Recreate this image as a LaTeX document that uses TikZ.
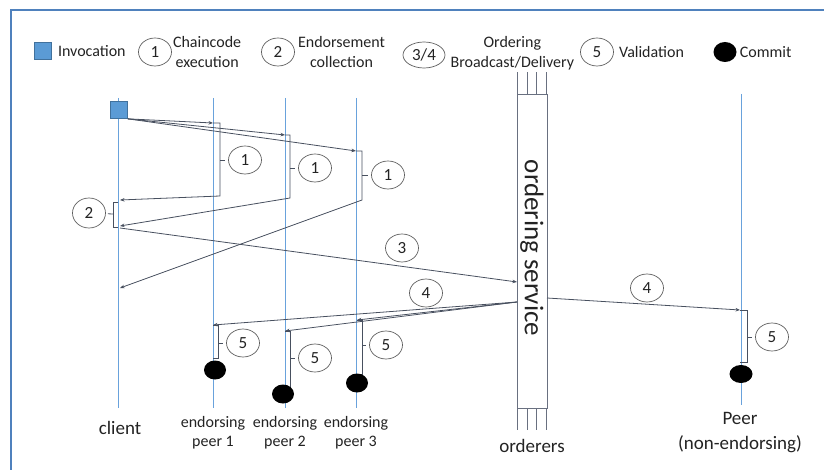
\documentclass[tikz,border=0pt]{standalone}
\usepackage{fontspec}
\setmainfont{Carlito}
\usepackage{xcolor}
\usetikzlibrary{shapes.geometric, arrows.meta, positioning, calc}
\definecolor{framecol}{RGB}{79,129,189}
\definecolor{lifecol}{RGB}{105,162,220}
\definecolor{msgcol}{RGB}{72,80,95}
\definecolor{ellcol}{RGB}{95,95,95}
\definecolor{invfill}{RGB}{91,155,213}
\definecolor{invedge}{RGB}{65,113,156}
\definecolor{boxcol}{RGB}{105,112,128}
\definecolor{txtcol}{RGB}{35,35,35}
\tikzset{
    frame/.style={
        draw=framecol,
        line width=1.6pt
    },
    lifeline/.style={
        draw=lifecol,
        line width=0.9pt
    },
    msg/.style={
        draw=msgcol,
        line width=0.8pt,
        -{Stealth[length=4.5pt,width=3.5pt]}
    },
    brk/.style={
        draw=msgcol,
        line width=0.8pt
    },
    stepmark/.style={
        ellipse,
        draw=ellcol,
        line width=0.7pt,
        minimum width=33pt,
        minimum height=28pt,
        inner sep=0pt,
        text=txtcol,
        font=\fontsize{17}{17}\selectfont
    },
    invbox/.style={
        rectangle,
        draw=invedge,
        fill=invfill,
        line width=0.7pt,
        minimum size=17pt,
        inner sep=0pt
    },
    commitdot/.style={
        ellipse,
        fill=black,
        minimum width=22pt,
        minimum height=19pt,
        inner sep=0pt
    },
    legtext/.style={
        text=txtcol,
        align=center,
        inner sep=0pt,
        font=\fontsize{16}{20}\selectfont
    },
    actor/.style={
        text=txtcol,
        align=center,
        inner sep=0pt,
        font=\fontsize{19}{25}\selectfont
    },
    peerlabel/.style={
        text=txtcol,
        align=center,
        inner sep=0pt,
        font=\fontsize{16}{19}\selectfont
    },
    ordbox/.style={
        rectangle,
        draw=boxcol,
        line width=1pt,
        minimum width=30pt,
        minimum height=313pt,
        inner sep=0pt
    },
    stub/.style={
        draw=boxcol,
        line width=1pt
    }
}
\begin{document}
\begin{tikzpicture}[x=1pt, y=-1pt]
\useasboundingbox (0,0) rectangle (824,470);

% Frame
\draw[frame] (11,470) -- (11,10) -- (824,10);

% Legend
\node[invbox] (leginv) at (43,51) {};
\node[legtext, right=6pt of leginv] (leginvtxt) {Invocation};
\node[stepmark] (legone) at (155,52) {1};
\node[legtext, right=1pt of legone] (legonetxt) {Chaincode\\execution};
\node[stepmark] (legtwo) at (278,52) {2};
\node[legtext, right=3pt of legtwo] (legtwotxt) {Endorsement\\collection};
\node[stepmark, minimum width=42pt, minimum height=26pt] (legord) at (424,55) {3/4};
\node[legtext, right=5pt of legord, yshift=2pt] (legordtxt) {Ordering\\Broadcast/Delivery};
\node[stepmark] (legfive) at (597,52) {5};
\node[legtext, right=5pt of legfive] (legfivetxt) {Validation};
\node[commitdot, minimum width=23pt, minimum height=20pt] (legdot) at (725,52) {};
\node[legtext, right=3pt of legdot] (legdottxt) {Commit};

% Lifelines
\coordinate (client-t) at (118,98);
\coordinate (client-b) at (118,408);
\coordinate (peerA-t) at (213,98);
\coordinate (peerA-b) at (213,408);
\coordinate (peerB-t) at (285,98);
\coordinate (peerB-b) at (285,408);
\coordinate (peerC-t) at (356,98);
\coordinate (peerC-b) at (356,408);
\coordinate (peerN-t) at (741,94);
\coordinate (peerN-b) at (741,405);
\draw[lifeline] (client-t) -- (client-b);
\draw[lifeline] (peerA-t) -- (peerA-b);
\draw[lifeline] (peerB-t) -- (peerB-b);
\draw[lifeline] (peerC-t) -- (peerC-b);
\draw[lifeline] (peerN-t) -- (peerN-b);

% Ordering service
\node[ordbox] (ordsvc) at (532,251.5) {};
\node[rotate=-90, text=txtcol, font=\fontsize{27}{27}\selectfont] (ordlabel) at (532,248) {ordering service};
\foreach \s in {0.03,0.34,0.66,0.97} {
    \draw[stub] ($(ordsvc.north west)!\s!(ordsvc.north east)$) -- ++(0,-22);
    \draw[stub] ($(ordsvc.south west)!\s!(ordsvc.south east)$) -- ++(0,21);
}

% Labels
\node[actor] (clientlbl) at (120,428) {client};
\node[peerlabel] (peerAlbl) at (213,433) {endorsing\\peer 1};
\node[peerlabel] (peerBlbl) at (285,433) {endorsing\\peer 2};
\node[peerlabel] (peerClbl) at (356,433) {endorsing\\peer 3};
\node[actor] (ordlbl) at (532,446) {orderers};
\node[actor] (peerNlbl) at (740,433) {Peer\\(non-endorsing)};

% Invocation
\node[invbox] (inv) at (119,110) {};

% Step 1: chaincode execution
\coordinate (pA-in) at (213,123);
\coordinate (pB-in) at (285,135);
\coordinate (pC-in) at (356,151);
\coordinate (pA-out) at (220,196);
\coordinate (pB-out) at (290,198);
\coordinate (pC-out) at (362,200);
\coordinate (cl-a) at (120,200);
\coordinate (cl-b) at (120,226);
\coordinate (cl-c) at (120,288);
\draw[msg] (inv.south east) -- (pA-in);
\draw[msg] (inv.south east) -- (pB-in);
\draw[msg] (inv.south east) -- (pC-in);
\draw[msg] (pA-in) -| (pA-out) -- (cl-a);
\draw[msg] (pB-in) -| (pB-out) -- (cl-b);
\draw[msg] (pC-in) -| (pC-out) -- (cl-c);
\node[stepmark] (oneA) at (245,160) {1};
\node[stepmark] (oneB) at (315,168) {1};
\node[stepmark] (oneC) at (388,175) {1};
\draw[brk, shorten >=3pt] (pA-out |- oneA) -- (oneA);
\draw[brk, shorten >=3pt] (pB-out |- oneB) -- (oneB);
\draw[brk, shorten >=3pt] (pC-out |- oneC) -- (oneC);

% Step 2: endorsement collection
\coordinate (cl-top) at (118,202);
\coordinate (cl-bot) at (118,227);
\coordinate (brtwo) at (113,214);
\draw[brk] (cl-top) -- ++(-5,0) |- (cl-bot);
\node[stepmark, minimum height=30pt] (two) at (89,213) {2};
\draw[brk, shorten >=2pt] (brtwo) -- (two);

% Step 3: broadcast
\coordinate (cl-send) at (120,228);
\coordinate (os-in) at (517,282);
\draw[msg] (cl-send) -- (os-in);
\node[stepmark] (three) at (402,248) {3};

% Step 4: delivery
\coordinate (os-out) at (517,302);
\coordinate (os-outr) at (547,298);
\coordinate (pA-dl) at (213,325);
\coordinate (pB-dl) at (285,331);
\coordinate (pC-dl) at (357,320);
\coordinate (pN-dl) at (740,310);
\draw[msg] (os-out) -- (pA-dl);
\draw[msg] (os-out) -- (pB-dl);
\draw[msg] (os-out) -- (pC-dl);
\draw[msg] (os-outr) -- (pN-dl);
\node[stepmark] (fourA) at (426,293) {4};
\node[stepmark] (fourB) at (647,288) {4};

% Step 5: validation
\coordinate (pA-v) at (218,358);
\coordinate (pB-v) at (290,387);
\coordinate (pC-v) at (362,374);
\coordinate (pN-v) at (747,362);
\draw[brk] (pA-dl) -| (pA-v) -- (pA-v -| pA-dl);
\draw[brk] (pB-dl) -| (pB-v) -- (pB-v -| pB-dl);
\draw[brk] (pC-dl) -| (pC-v) -- (pC-v -| pC-dl);
\draw[brk] (pN-dl) -| (pN-v) -- (pN-v -| pN-dl);
\node[stepmark] (fiveA) at (243,343) {5};
\node[stepmark] (fiveB) at (315,358) {5};
\node[stepmark] (fiveC) at (386,345) {5};
\node[stepmark] (fiveN) at (772,337) {5};
\draw[brk, shorten >=3pt] (pA-v |- fiveA) -- (fiveA);
\draw[brk, shorten >=3pt] (pB-v |- fiveB) -- (fiveB);
\draw[brk, shorten >=3pt] (pC-v |- fiveC) -- (fiveC);
\draw[brk, shorten >=3pt] (pN-v |- fiveN) -- (fiveN);

% Commit
\node[commitdot] (commitA) at (215,370) {};
\node[commitdot] (commitB) at (283,394) {};
\node[commitdot] (commitC) at (357,383) {};
\node[commitdot, minimum width=23pt, minimum height=18pt] (commitN) at (741,374) {};

\end{tikzpicture}
\end{document}
